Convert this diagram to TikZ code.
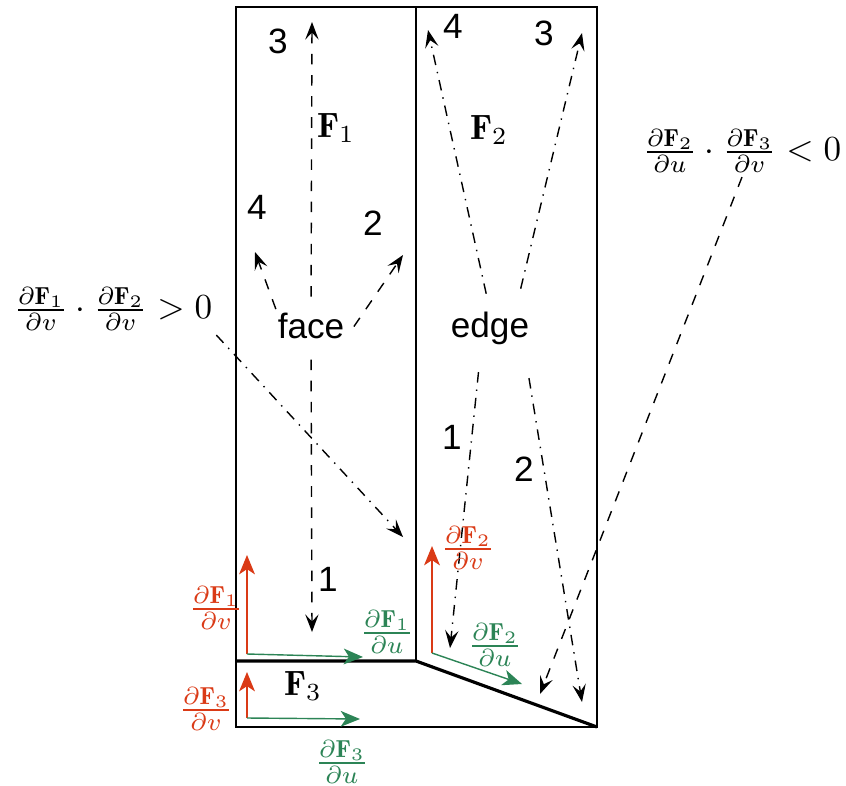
\documentclass[tikz,border=0pt]{standalone}
\usepackage{amsmath,amssymb}
\usepackage{fontspec}
\newfontfamily\sanslab{Liberation Sans}
\usepackage{xcolor}
\usetikzlibrary{arrows.meta}
\definecolor{dvred}{RGB}{218,58,22}
\definecolor{dugreen}{RGB}{44,132,86}

\begin{document}
\begin{tikzpicture}[x=0.01cm,y=-0.01cm,
		frame/.style={line width=0.5pt},
		seam/.style={line width=0.9pt},
		num/.style={font=\sanslab},
		word/.style={font=\sanslab,inner sep=0pt},
		facearr/.style={dashed,-{Stealth[length=5pt,width=3.8pt,inset=2pt]}},
		edgearr/.style={dash dot,-{Stealth[length=5pt,width=3.8pt,inset=2pt]}},
		dv/.style={dvred,line width=0.4pt,-{Stealth[length=5.5pt,width=4.5pt,inset=1.5pt]}},
		du/.style={dugreen,line width=0.4pt,-{Stealth[length=5.5pt,width=4.5pt,inset=1.5pt]}}]
		\useasboundingbox (0,0) rectangle (846,785);

		\draw[frame] (236,7) rectangle (597,727);
		\draw[frame] (416,7) -- (416,661);
		\draw[seam] (236,661) -- (416,661) -- (597,727);

\node[word] (face) at (311,326) {face};
\node[word] (edge) at (490,328) {edge};

\node[num] (fthree) at (278,41) {3};
\node[num] (ffour) at (257,207) {4};
\node[num] (ftwo) at (373,223) {2};
\node[num] (fone) at (328,579) {1};
\node[num] (efour) at (453,26) {4};
\node[num] (ethree) at (544,33) {3};
\node[num] (eone) at (452,437) {1};
\node[num] (etwo) at (524,469) {2};

\node (Fa) at (336,128) {$\mathbf{F}_1$};
\node (Fb) at (489,130) {$\mathbf{F}_2$};
\node (Fc) at (303,686) {$\mathbf{F}_3$};

\coordinate (tfthree) at (312,22);
\coordinate (tffour) at (255,252);
\coordinate (tftwo) at (403,255);
\coordinate (tfone) at (312,632);
\draw[facearr,shorten <=4.5pt] (face.north) -- (tfthree);
\draw[facearr,shorten <=1pt] (face.north west) -- (tffour);
\draw[facearr,shorten <=4.5pt] (face.south east) -- (tftwo);
\draw[facearr,shorten <=5.7pt] (face.south) -- (tfone);

\coordinate (tefour) at (428,30);
\coordinate (tethree) at (582,33);
\coordinate (teone) at (450,648);
\coordinate (tetwo) at (582,702);
\draw[edgearr,shorten <=5pt] (edge.north) -- (tefour);
\draw[edgearr,shorten <=6.5pt] (edge.34) -- (tethree);
\draw[edgearr,shorten <=7.7pt] (edge.243) -- (teone);
\draw[edgearr,shorten <=9.5pt] (edge.333) -- (tetwo);

\node[inner sep=1pt] (lform) at (113,309) {$\frac{\partial\mathbf{F}_1}{\partial v}\cdot\frac{\partial\mathbf{F}_2}{\partial v}>0$};
\node[inner sep=1pt] (rform) at (742,151) {$\frac{\partial\mathbf{F}_2}{\partial u}\cdot\frac{\partial\mathbf{F}_3}{\partial v}<0$};
\coordinate (tl) at (403,537);
\coordinate (tr) at (540,694);
\draw[edgearr] (lform.south east) -- (tl);
\draw[facearr] (rform.south) -- (tr);

\coordinate (oa) at (247,654);
\coordinate (va) at (247,555);
\coordinate (ua) at (363,657);
\draw[dv] (oa) -- (va);
\draw[du] (oa) -- (ua);
\node[dvred] (lva) at (216,608) {$\frac{\partial\mathbf{F}_1}{\partial v}$};
\node[dugreen] (lua) at (387,632) {$\frac{\partial\mathbf{F}_1}{\partial u}$};

\coordinate (ob) at (432,653);
\coordinate (vb) at (432,546);
\coordinate (ub) at (522,684);
\draw[dv] (ob) -- (vb);
\draw[du] (ob) -- (ub);
\node[dvred] (lvb) at (468,548) {$\frac{\partial\mathbf{F}_2}{\partial v}$};
\node[dugreen] (lub) at (495,645) {$\frac{\partial\mathbf{F}_2}{\partial u}$};

\coordinate (oc) at (247,718);
\coordinate (vc) at (247,672);
\coordinate (uc) at (360,719);
\draw[dv] (oc) -- (vc);
\draw[du] (oc) -- (uc);
\node[dvred] (lvc) at (206,709) {$\frac{\partial\mathbf{F}_3}{\partial v}$};
\node[dugreen] (luc) at (342,762) {$\frac{\partial\mathbf{F}_3}{\partial u}$};
		\end{tikzpicture}
\end{document}
